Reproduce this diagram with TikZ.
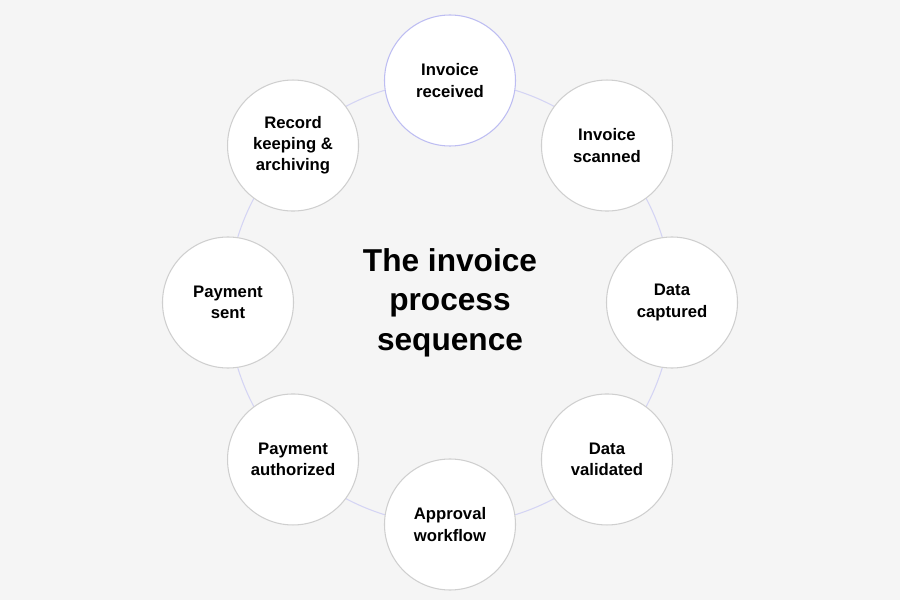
\documentclass[tikz,border=0pt]{standalone}
\usepackage{fontspec}
\setmainfont{Liberation Sans}
\usetikzlibrary{calc}
\definecolor{bgcol}{HTML}{F5F5F5}
\definecolor{ringcol}{HTML}{D4D4F4}
\definecolor{edgecol}{HTML}{CFCFCF}
\definecolor{topcol}{HTML}{BDBDF2}
\tikzset{
    stage/.style={draw=edgecol, fill=white, circle, minimum size=2.62cm, line width=0.6pt,
        align=center, font=\fontsize{9.5}{12}\selectfont\bfseries, inner sep=0pt},
    title/.style={align=center, font=\fontsize{18}{22.5}\selectfont\bfseries}
}
\begin{document}
\begin{tikzpicture}
    %--------------------%
    % Parameters
    %--------------------%
    \def\ringrad{4.44}
    \fill[bgcol] (0,0) rectangle (18,12);
    \useasboundingbox (0,0) rectangle (18,12);
    \coordinate (centre) at (9,5.95);

    %--------------------%
    % Ring
    %--------------------%
    \draw[ringcol, line width=0.6pt] (centre) circle (\ringrad);

    %--------------------%
    % Stages
    %--------------------%
    \node[stage, draw=topcol] (received) at ($(centre)+(90:\ringrad)$) {Invoice\\received};
    \node[stage] (scanned) at ($(centre)+(45:\ringrad)$) {Invoice\\scanned};
    \node[stage] (captured) at ($(centre)+(0:\ringrad)$) {Data\\captured};
    \node[stage] (validated) at ($(centre)+(-45:\ringrad)$) {Data\\validated};
    \node[stage] (approval) at ($(centre)+(-90:\ringrad)$) {Approval\\workflow};
    \node[stage] (authorized) at ($(centre)+(-135:\ringrad)$) {Payment\\authorized};
    \node[stage] (sent) at ($(centre)+(180:\ringrad)$) {Payment\\sent};
    \node[stage] (archiving) at ($(centre)+(135:\ringrad)$) {Record\\keeping \&\\archiving};

    %--------------------%
    % Title
    %--------------------%
    \node[title] (heading) at (centre) {The invoice\\process\\sequence};
\end{tikzpicture}
\end{document}
